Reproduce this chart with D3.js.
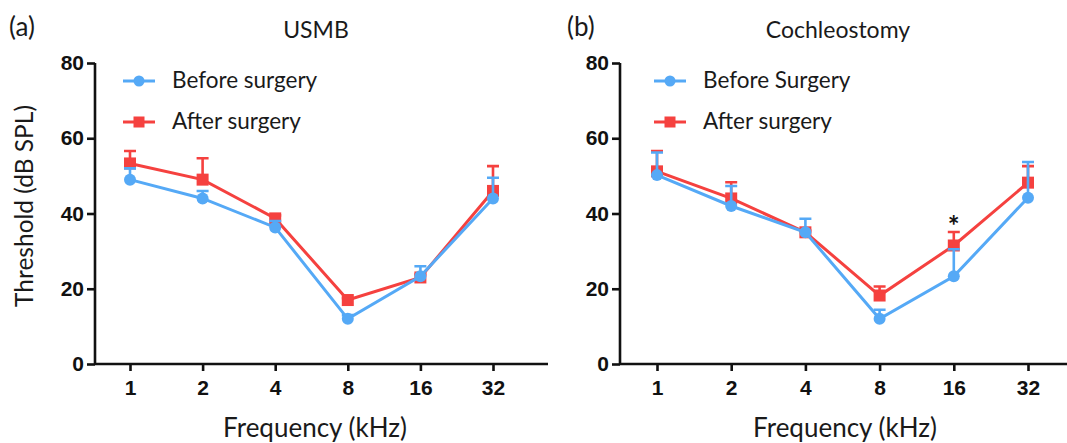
<!DOCTYPE html>
<html>
<head>
<meta charset="utf-8">
<script src="https://cdn.jsdelivr.net/npm/d3@7"></script>
<style>
  body { margin: 0; background: #fff; }
  svg text { font-family: Lato, "Open Sans", sans-serif; }
  .tick-label { font-family: "Liberation Sans", Arial, sans-serif !important; font-weight: bold; }
</style>
</head>
<body>
<svg id="chart" width="1067" height="443"></svg>
<script>
// 频率 (kHz)
const freqs = ['1', '2', '4', '8', '16', '32'];
const yTicks = [0, 20, 40, 60, 80];

// (a) USMB
const usmbBefore = [49, 44, 36.3, 12, 23.3, 44];
const usmbBeforeErr = [3, 2, 1.7, 1, 2.7, 5.5];
const usmbAfter = [53.3, 49, 38.7, 17, 23, 46];
const usmbAfterErr = [3.3, 5.7, 0.8, 0.5, 0.8, 6.6];

// (b) Cochleostomy
const cochBefore = [50.2, 42, 35, 12, 23.3, 44.2];
const cochBeforeErr = [6, 5.3, 3.6, 2.4, 7.2, 9.5];
const cochAfter = [51.2, 44, 35, 18.2, 31.5, 48.2];
const cochAfterErr = [5.4, 4.3, 0.5, 2.4, 3.6, 4.4];

const BLUE = '#55a9f6';
const RED = '#f5413f';

const svg = d3.select('#chart');

function drawPanel(opt) {
  const y = d3.scaleLinear().domain([0, 80]).range([364, 63]);
  const x = d3.scalePoint().domain(freqs).range([opt.x1, opt.x32]);

  const g = svg.append('g');

  // 轴
  const yAxis = d3.axisLeft(y).tickValues(yTicks).tickSize(8).tickPadding(3);
  g.append('g').attr('transform', `translate(${opt.axisX},0)`).call(yAxis)
    .call(s => s.select('.domain').attr('d', `M0,${y(80)}V${y(0)}`));
  const xAxis = d3.axisBottom(x).tickSize(7).tickPadding(9);
  g.append('g').attr('transform', `translate(0,${y(0)})`).call(xAxis)
    .call(s => s.select('.domain').attr('d', `M${opt.axisX},0H${opt.axisEnd}`));

  g.selectAll('.domain').attr('stroke', '#111').attr('stroke-width', 2.6).attr('fill', 'none');
  g.selectAll('.tick line').attr('stroke', '#111').attr('stroke-width', 2.6);
  g.selectAll('.tick text').attr('class', 'tick-label').attr('font-size', 21).attr('fill', '#111');

  // 系列：红色在下，蓝色在上
  const series = [
    { vals: opt.after, err: opt.afterErr, color: RED, shape: 'square' },
    { vals: opt.before, err: opt.beforeErr, color: BLUE, shape: 'circle' }
  ];

  series.forEach(s => {
    const pts = freqs.map((f, i) => ({ f, v: s.vals[i], e: s.err[i] }));
    const sg = g.append('g');
    // 误差线 (只画上方)
    sg.selectAll('.err').data(pts).enter().append('path')
      .attr('d', d => {
        const cx = x(d.f), y0 = y(d.v), y1 = y(d.v + d.e);
        return `M${cx},${y0}V${y1}M${cx - 6},${y1}H${cx + 6}`;
      })
      .attr('stroke', s.color).attr('stroke-width', 2.6).attr('fill', 'none');
    sg.append('path').datum(pts)
      .attr('d', d3.line().x(d => x(d.f)).y(d => y(d.v)))
      .attr('stroke', s.color).attr('stroke-width', 3).attr('fill', 'none');
    if (s.shape === 'circle') {
      sg.selectAll('circle').data(pts).enter().append('circle')
        .attr('cx', d => x(d.f)).attr('cy', d => y(d.v)).attr('r', 6)
        .attr('fill', s.color);
    } else {
      sg.selectAll('rect').data(pts).enter().append('rect')
        .attr('x', d => x(d.f) - 6).attr('y', d => y(d.v) - 6)
        .attr('width', 12).attr('height', 12).attr('fill', s.color);
    }
  });

  // 图例
  const lg = g.append('g').attr('transform', `translate(${opt.legX},0)`);
  [[opt.legBefore, BLUE, 'circle', 81], ['After surgery', RED, 'square', 122]].forEach(([label, c, shape, ly]) => {
    lg.append('line').attr('x1', 0).attr('x2', 32).attr('y1', ly).attr('y2', ly)
      .attr('stroke', c).attr('stroke-width', 3);
    if (shape === 'circle') lg.append('circle').attr('cx', 16).attr('cy', ly).attr('r', 5.5).attr('fill', c);
    else lg.append('rect').attr('x', 10.5).attr('y', ly - 5.5).attr('width', 11).attr('height', 11).attr('fill', c);
    lg.append('text').attr('x', 49).attr('y', ly + 7).attr('font-size', 22.5).attr('fill', '#1a1a1a').text(label);
  });

  // 标题
  g.append('text').attr('x', opt.titleX).attr('y', 38).attr('text-anchor', 'middle')
    .attr('font-size', 23).attr('fill', '#1a1a1a').text(opt.title);
  g.append('text').attr('x', opt.tagX).attr('y', 36).attr('font-size', 26).attr('fill', '#1a1a1a').text(opt.tag);
  g.append('text').attr('x', opt.xTitleX).attr('y', 437).attr('text-anchor', 'middle')
    .attr('font-size', 26).attr('fill', '#1a1a1a').text('Frequency (kHz)');

  if (opt.star) {
    const si = freqs.indexOf(opt.star);
    g.append('text').attr('x', x(opt.star)).attr('y', y(opt.after[si] + opt.afterErr[si]) + 4)
      .attr('text-anchor', 'middle').attr('font-size', 28).attr('font-weight', 'bold')
      .attr('font-family', 'Liberation Sans, Arial, sans-serif').attr('fill', '#111').text('*');
  }
}

drawPanel({
  axisX: 95, axisEnd: 548, x1: 130, x32: 493,
  before: usmbBefore, beforeErr: usmbBeforeErr, after: usmbAfter, afterErr: usmbAfterErr,
  legX: 123, legBefore: 'Before surgery',
  title: 'USMB', titleX: 316, tag: '(a)', tagX: 9, xTitleX: 315
});

drawPanel({
  axisX: 620, axisEnd: 1067, x1: 657, x32: 1028,
  before: cochBefore, beforeErr: cochBeforeErr, after: cochAfter, afterErr: cochAfterErr,
  legX: 654, legBefore: 'Before Surgery',
  title: 'Cochleostomy', titleX: 838, tag: '(b)', tagX: 567, xTitleX: 845, star: '16'
});

// Y轴标题
svg.append('text').attr('transform', 'translate(33,206) rotate(-90)')
  .attr('text-anchor', 'middle').attr('font-size', 24.5).attr('fill', '#1a1a1a')
  .text('Threshold (dB SPL)');
</script>
</body>
</html>
